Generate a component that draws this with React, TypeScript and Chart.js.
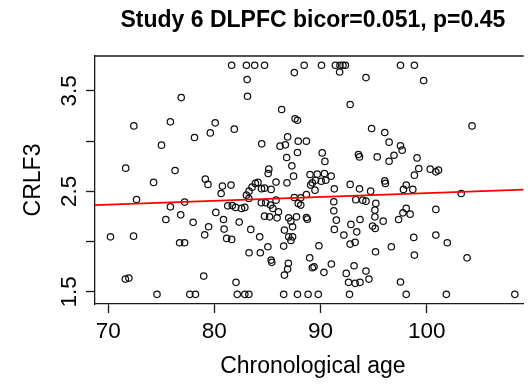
import { useEffect, useRef } from "react";
import { Chart, registerables } from "chart.js";

Chart.register(...registerables);

// Chronological age (years) per sample
const ages = [
  76.88, 81.63, 83.02, 83.8, 84.73, 83.09, 83.12, 87.53, 88.46, 90.09,
  91.4, 91.83, 92.11, 92.34, 91.8, 94.28, 92.79, 86.34, 87.6, 87.83,
  97.53, 98.84, 99.71, 72.42, 75.86, 80.08, 79.62, 78.13, 75.02, 71.65,
  76.3, 74.28, 79.15, 79.4, 80.76, 81.57, 80.64, 72.67, 77.2, 75.86,
  76.83, 75.43, 78.0, 80.14, 80.86, 79.46, 80.92, 79.09, 70.22, 72.39,
  81.26, 81.69, 82.34, 81.16, 81.63, 81.88, 86.9, 84.46, 86.19, 86.69,
  87.9, 88.67, 87.83, 86.81, 90.16, 90.41, 93.57, 93.67, 87.3, 85.13,
  85.07, 87.46, 85.81, 86.84, 89.01, 89.69, 90.37, 91.0, 89.23, 89.53,
  90.07, 90.5, 89.48, 89.07, 83.02, 83.27, 83.55, 83.86, 84.11, 84.44,
  84.72, 85.35, 91.3, 92.79, 93.67, 94.72, 88.67, 88.14, 87.53, 85.81,
  84.83, 84.42, 83.25, 82.0, 82.56, 82.87, 85.29, 85.51, 86.04, 85.2,
  84.73, 85.91, 87.9, 88.14, 88.76, 88.67, 87.0, 87.74, 87.21, 87.37,
  86.6, 83.43, 84.27, 87.0, 87.37, 91.25, 91.25, 91.49, 91.3, 92.86,
  92.2, 93.32, 93.97, 94.28, 93.72, 93.41, 94.81, 96.05, 96.46, 97.53,
  97.69, 95.34, 96.92, 96.46, 99.09, 99.25, 98.84, 100.33, 100.86, 101.11,
  96.05, 96.11, 98.07, 97.81, 98.69, 103.25, 95.21, 95.12, 95.12, 95.9,
  98.07, 97.76, 98.44, 97.35, 100.86, 94.9, 95.15, 98.78, 100.86, 104.27,
  76.73, 77.2, 71.62, 71.95, 74.6, 77.69, 78.22, 79.0, 86.53, 87.21,
  89.85, 92.79, 93.26, 95.18, 96.67, 83.27, 84.33, 85.04, 85.35, 85.41,
  86.97, 86.9, 86.6, 88.98, 89.23, 89.39, 90.32, 91.02, 93.16, 92.42,
  94.28, 94.56, 92.64, 93.26, 93.72, 82.04, 82.16, 82.87, 83.25, 86.53,
  87.83, 88.83, 89.79, 92.73, 101.94, 98.84, 103.8, 97.53, 98.07, 101.85,
  108.3,
];

// CRLF3 expression per sample (same order as ages)
const crlf3 = [
  3.434, 3.756, 3.756, 3.756, 3.756, 3.613, 3.447, 3.683, 3.756, 3.756,
  3.756, 3.756, 3.756, 3.756, 3.689, 3.633, 3.365, 3.315, 3.223, 3.208,
  3.756, 3.756, 3.603, 3.152, 3.192, 3.182, 3.082, 3.036, 2.96, 2.731,
  2.708, 2.589, 2.621, 2.569, 2.552, 2.562, 2.479, 2.419, 2.393, 2.346,
  2.266, 2.22, 2.191, 2.29, 2.22, 2.147, 2.124, 2.067, 2.047, 2.054,
  2.356, 2.358, 2.194, 2.031, 2.021, 3.119, 3.042, 2.973, 2.95, 2.963,
  3.0, 3.0, 2.887, 2.837, 2.883, 2.798, 2.867, 2.843, 2.754, 2.721,
  2.678, 2.651, 2.592, 2.585, 2.668, 2.671, 2.678, 2.651, 2.585, 2.611,
  2.601, 2.611, 2.512, 2.562, 2.462, 2.502, 2.542, 2.579, 2.589, 2.527,
  2.532, 2.519, 2.525, 2.569, 2.525, 2.502, 2.469, 2.435, 2.439, 2.412,
  2.386, 2.386, 2.429, 2.34, 2.33, 2.34, 2.363, 2.33, 2.296, 2.246,
  2.253, 2.236, 2.38, 2.363, 2.223, 2.24, 2.236, 2.246, 2.203, 2.147,
  2.114, 2.121, 2.047, 2.047, 2.047, 2.396, 2.306, 2.213, 2.121, 2.171,
  2.064, 2.417, 2.412, 2.402, 2.22, 2.097, 3.126, 3.086, 2.99, 2.953,
  2.91, 2.843, 2.86, 2.8, 2.833, 2.728, 2.661, 2.721, 2.694, 2.711,
  2.604, 2.579, 2.562, 2.519, 2.519, 2.479, 2.38, 2.313, 2.246, 2.203,
  2.33, 2.286, 2.273, 2.22, 2.32, 2.154, 2.131, 2.041, 2.064, 3.152,
  1.988, 1.988, 1.626, 1.636, 1.474, 1.474, 1.474, 1.656, 1.955, 2.011,
  1.958, 1.975, 1.992, 1.898, 1.948, 1.888, 1.888, 1.948, 1.815, 1.793,
  1.783, 1.726, 1.666, 1.838, 1.739, 1.749, 1.693, 1.776, 1.759, 1.683,
  1.706, 1.626, 1.594, 1.584, 1.594, 1.594, 1.474, 1.474, 1.474, 1.474,
  1.474, 1.474, 1.474, 1.474, 1.988, 1.865, 1.838, 1.597, 1.474, 1.474,
  1.474,
];

// Axis ticks and their printed labels (R drops overlapping y labels)
const xTicks = [70, 80, 90, 100];
const xTickLabels = ["70", "80", "90", "100"];
const yTicks = [1.5, 2, 2.5, 3, 3.5];
const yTickLabels = ["1.5", "", "2.5", "", "3.5"];

// Least-squares line: CRLF3 = intercept + slope * age
const fitIntercept = 2.1007;
const fitSlope = 0.003814;

const mainTitle = "Study 6 DLPFC bicor=0.051, p=0.45";
const xTitle = "Chronological age";
const yTitle = "CRLF3";

// Visible axis window; the full R plot box runs slightly past the right edge
const xRange = [68.76, 109.14];
const xBoxRange = [68.76, 109.8];
const yRange = [1.378, 3.848];

const FONT = '"Liberation Sans", Arial, Helvetica, sans-serif';
const INK = "#1a1a1a";

const rTextPlugin = {
  id: "rText",
  afterDraw(chart: any) {
    const { ctx, chartArea, scales } = chart;
    const xs = scales.x;
    const ys = scales.y;
    const centerX =
      (xs.getPixelForValue(xBoxRange[0]) + xs.getPixelForValue(xBoxRange[1])) / 2;
    ctx.save();
    // top side of the plot box
    ctx.strokeStyle = INK;
    ctx.lineWidth = 1.3;
    ctx.beginPath();
    ctx.moveTo(chartArea.left, chartArea.top);
    ctx.lineTo(chartArea.right, chartArea.top);
    ctx.stroke();

    ctx.fillStyle = "#000";
    ctx.textAlign = "center";
    ctx.textBaseline = "alphabetic";

    ctx.font = `22.5px ${FONT}`;
    xTicks.forEach((v, i) => {
      ctx.fillText(xTickLabels[i], xs.getPixelForValue(v), 338);
    });
    yTicks.forEach((v, i) => {
      const lab = yTickLabels[i];
      if (!lab) return;
      ctx.save();
      ctx.translate(75.5, ys.getPixelForValue(v));
      ctx.rotate(-Math.PI / 2);
      ctx.fillText(lab, 0, 0);
      ctx.restore();
    });

    ctx.font = `23px ${FONT}`;
    ctx.fillText(xTitle, centerX, 373);
    ctx.save();
    ctx.translate(40, (chartArea.top + chartArea.bottom) / 2);
    ctx.rotate(-Math.PI / 2);
    ctx.fillText(yTitle, 0, 0);
    ctx.restore();

    ctx.font = `bold 23px ${FONT}`;
    ctx.fillText(mainTitle, centerX, 27);
    ctx.restore();
  },
};

export default function App() {
  const canvasRef = useRef<HTMLCanvasElement | null>(null);

  useEffect(() => {
    const canvas = canvasRef.current;
    if (!canvas) return;
    const points = ages.map((a, i) => ({ x: a, y: crlf3[i] }));
    const fitLine = xRange.map((x) => ({ x, y: fitIntercept + fitSlope * x }));

    const chart = new Chart(canvas, {
      type: "scatter",
      data: {
        datasets: [
          {
            data: points,
            pointStyle: "circle",
            pointRadius: 3.2,
            pointBorderWidth: 1.25,
            pointBorderColor: "#111",
            pointBackgroundColor: "rgba(0,0,0,0)",
            order: 2,
          },
          {
            type: "line",
            data: fitLine,
            borderColor: "#ff0000",
            borderWidth: 1.6,
            pointRadius: 0,
            showLine: true,
            order: 1,
          } as any,
        ],
      },
      options: {
        animation: false,
        responsive: false,
        devicePixelRatio: 1,
        layout: { padding: { top: 56, right: 0, bottom: 0, left: 0 } },
        plugins: {
          legend: { display: false },
          tooltip: { enabled: false },
          title: { display: false },
        },
        scales: {
          x: {
            type: "linear",
            min: xRange[0],
            max: xRange[1],
            afterBuildTicks: (s: any) => {
              s.ticks = xTicks.map((v) => ({ value: v }));
            },
            afterFit: (s: any) => {
              s.height = 81;
            },
            ticks: { display: false },
            grid: {
              drawOnChartArea: false,
              drawTicks: true,
              tickLength: 9,
              tickColor: INK,
              tickWidth: 1.3,
            },
            border: { display: true, color: INK, width: 1.3 },
          },
          y: {
            type: "linear",
            min: yRange[0],
            max: yRange[1],
            afterBuildTicks: (s: any) => {
              s.ticks = yTicks.map((v) => ({ value: v }));
            },
            afterFit: (s: any) => {
              s.width = 95;
            },
            ticks: { display: false },
            grid: {
              drawOnChartArea: false,
              drawTicks: true,
              tickLength: 9,
              tickColor: INK,
              tickWidth: 1.3,
            },
            border: { display: true, color: INK, width: 1.3 },
          },
        },
      },
      plugins: [rTextPlugin],
    });
    return () => chart.destroy();
  }, []);

  return (
    <div
      style={{
        position: "fixed",
        left: 0,
        top: 0,
        width: 529,
        height: 385,
        background: "#fff",
      }}
    >
      <canvas
        ref={canvasRef}
        width={529}
        height={385}
        style={{ display: "block", width: 529, height: 385 }}
      />
    </div>
  );
}
